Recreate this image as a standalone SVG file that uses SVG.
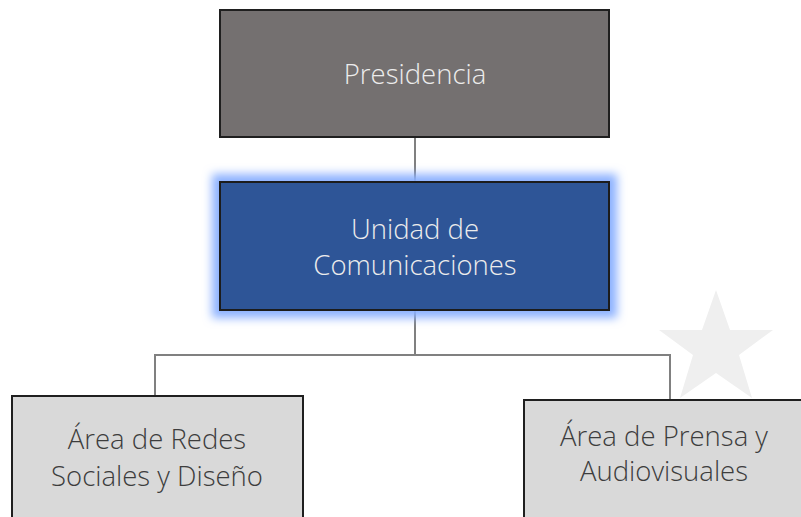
<svg xmlns="http://www.w3.org/2000/svg" width="801" height="517" viewBox="0 0 801 517">
<defs>
<filter id="halo" x="-10%" y="-25%" width="120%" height="150%">
<feMorphology in="SourceAlpha" operator="dilate" radius="7" result="d"/>
<feGaussianBlur in="d" stdDeviation="5" result="b"/>
<feFlood flood-color="#8cb1ff"/>
<feComposite operator="in" in2="b" result="g"/>
<feMerge><feMergeNode in="g"/><feMergeNode in="SourceGraphic"/></feMerge>
</filter>
</defs>
<style>
.box{stroke:#1f1f1f;stroke-width:2}
.conn{fill:none;stroke:#808080;stroke-width:2}
.t{font-family:"Open Sans","Lato","Liberation Sans",sans-serif;font-weight:300;font-size:27.5px;text-anchor:middle}
.light{fill:#ececec}
.dark{fill:#3d3d3d}
</style>
<rect width="801" height="517" fill="#ffffff"/>
<polygon id="star" fill="#efefef" points="716,290 730,330 773,330 739,355 752,398 716,373 680,398 693,355 659,330 702,330"/>
<g id="connectors">
<line class="conn" x1="415" y1="137" x2="415" y2="182"/>
<line class="conn" x1="415" y1="310" x2="415" y2="355"/>
<polyline class="conn" points="155,396 155,355 670,355 670,400"/>
</g>
<g id="presidencia">
<rect class="box" x="220" y="10" width="389" height="127" fill="#747070"/>
<text class="t light" x="415" y="84">Presidencia</text>
</g>
<g id="unidad">
<rect class="box" x="220" y="182" width="389" height="128" fill="#2e5597" filter="url(#halo)"/>
<text class="t light" x="415" y="239">Unidad de</text>
<text class="t light" x="415" y="275">Comunicaciones</text>
</g>
<g id="redes">
<rect class="box" x="12" y="396" width="291" height="130" fill="#d9d9d9"/>
<text class="t dark" x="157" y="449">Área de Redes</text>
<text class="t dark" x="157" y="486">Sociales y Diseño</text>
</g>
<g id="prensa">
<rect class="box" x="524" y="400" width="290" height="130" fill="#d9d9d9"/>
<text class="t dark" x="664" y="446">Área de Prensa y</text>
<text class="t dark" x="664" y="481">Audiovisuales</text>
</g>
</svg>
